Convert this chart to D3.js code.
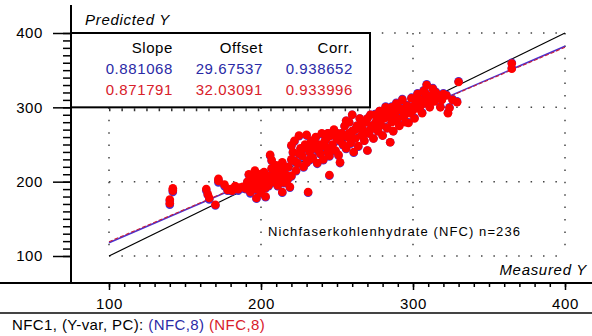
<!DOCTYPE html>
<html>
<head>
<meta charset="utf-8">
<script src="https://cdn.jsdelivr.net/npm/d3@7/dist/d3.min.js"></script>
<style>
  body { margin: 0; background: #fff; }
  svg text { font-family: "Liberation Sans", Arial, sans-serif; }
</style>
</head>
<body>
<div id="chart"></div>
<script>
// ---- data ----
const axisTicks = [100, 200, 300, 400];

const measured = [
  140,140,142,142,164,165,166,170,172,172,
  176,178,180,181,183,185,186,188,190,191,
  192,193,194,195,196,197,197,198,199,200,
  200,201,202,203,203,204,205,206,207,207,
  208,209,210,211,212,213,214,214,215,216,
  217,218,219,220,220,220,221,222,223,224,
  225,226,227,228,229,230,230,231,232,233,
  234,235,236,237,238,239,240,241,242,243,
  244,245,245,246,247,248,249,250,251,252,
  253,254,255,256,257,258,259,260,260,261,
  262,263,264,265,266,267,268,269,270,271,
  272,273,274,275,276,277,278,279,280,281,
  282,283,284,285,285,286,287,288,289,290,
  291,292,293,294,295,296,297,298,299,300,
  301,302,303,304,305,306,307,308,309,310,
  311,312,313,314,316,318,320,322,323,324,
  326,329,330,365,365,
  205,210,215,218,222,225,228,232,235,238,
  242,246,250,252,255,258,262,265,268,270,
  272,275,278,280,283,286,288,290,293,296,
  299,302,305,308,311,315,319,232,244,256
];

const predictedRed = [
  176,171,191,188,190,183,178,169,204,201,
  196,189,190,188,194,190,192,193,191,200,
  210,186,195,205,215,178,190,200,210,185,
  196,205,213,180,192,200,208,236,229,218,
  200,210,222,195,205,215,186,226,199,210,
  202,220,193,249,230,208,240,255,215,225,
  262,245,235,220,250,263,226,186,240,255,
  232,245,260,225,250,238,265,230,248,258,
  240,235,209,262,250,270,242,258,236,226,
  265,250,275,245,260,280,252,290,268,240,
  258,275,248,285,262,270,255,280,242,265,
  290,275,258,290,282,268,295,276,262,285,
  300,272,288,296,253,280,268,292,305,285,
  275,298,310,288,280,302,279,292,312,296,
  285,305,318,298,310,292,322,319,330,305,
  300,315,325,308,312,300,318,316,292,299,
  310,307,334,352,359,
  195,212,220,205,228,238,245,230,252,242,
  255,245,265,255,262,265,270,275,265,285,
  270,278,285,292,295,300,282,300,295,292,
  300,312,302,308,315,320,310,248,265,282
];

const predictedBlue = [
  174,169,189,186,188,182,176,168,202,199,
  194,188,188,187,193,188,191,191,190,199,
  209,184,194,204,213,177,189,199,209,184,
  195,204,212,179,191,199,207,235,228,217,
  199,209,221,194,204,214,185,225,198,209,
  201,219,192,248,229,207,239,254,214,224,
  261,244,234,219,249,262,225,185,239,254,
  231,244,259,224,249,237,264,229,247,257,
  239,234,208,262,249,269,241,257,235,225,
  265,249,275,244,260,280,251,290,268,239,
  258,275,247,285,262,270,255,280,242,265,
  290,275,258,291,282,268,295,276,262,286,
  301,272,289,297,253,281,268,293,306,286,
  276,299,311,289,281,303,280,293,313,297,
  286,306,319,299,311,293,323,320,331,306,
  301,316,326,309,313,301,319,317,293,300,
  311,308,335,353,360,
  194,211,219,204,227,237,244,229,251,241,
  254,244,265,254,262,265,270,275,265,285,
  270,278,285,293,296,301,283,301,296,293,
  301,313,303,309,316,321,311,247,265,282
];

// regression stats (legend table)
const statHeaders = ['Slope', 'Offset', 'Corr.'];
const statsBlue = ['0.881068', '29.67537', '0.938652'];
const statsRed = ['0.871791', '32.03091', '0.933996'];
const slopes = [0.881068, 0.871791];
const offsets = [29.67537, 32.03091];

const BLUE = '#4a30d0';
const RED = '#ff0000';
const BLUE_TXT = '#2a2aa6';
const RED_TXT = '#d8202a';

const W = 592, H = 336;

const svg = d3.select('#chart').append('svg')
  .attr('width', W)
  .attr('height', H);

const x = d3.scaleLinear().domain([100, 400]).range([109, 565]);
const y = d3.scaleLinear().domain([100, 400]).range([256, 33]);

// dotted grid
const grid = svg.append('g').classed('grid', true);
axisTicks.forEach(t => {
  grid.append('line')
    .attr('x1', x(t)).attr('x2', x(t))
    .attr('y1', y(400)).attr('y2', y(100))
    .style('stroke', '#444').style('stroke-width', 1.5)
    .style('stroke-dasharray', '1.5 10.9');
  grid.append('line')
    .attr('x1', x(100)).attr('x2', x(400))
    .attr('y1', y(t)).attr('y2', y(t))
    .style('stroke', '#444').style('stroke-width', 1.5)
    .style('stroke-dasharray', '1.5 10.9');
});

// legend box with stats
const box = svg.append('g').classed('legend', true);
box.append('rect')
  .attr('x', 71).attr('y', y(400))
  .attr('width', 299).attr('height', y(300) - y(400))
  .style('fill', '#fff').style('stroke', '#000').style('stroke-width', 2);
// little dots poking under the box border
box.append('line')
  .attr('x1', x(100)).attr('x2', 370)
  .attr('y1', y(300) + 2.5).attr('y2', y(300) + 2.5)
  .style('stroke', '#333').style('stroke-width', 3)
  .style('stroke-dasharray', '1.5 10.9');

const colRight = [173, 263, 353];
const rows = [
  { vals: statHeaders, color: '#000', base: 53 },
  { vals: statsBlue, color: BLUE_TXT, base: 74 },
  { vals: statsRed, color: RED_TXT, base: 95 }
];
rows.forEach(r => {
  r.vals.forEach((v, i) => {
    box.append('text')
      .attr('x', colRight[i]).attr('y', r.base)
      .attr('text-anchor', 'end')
      .style('font-size', '15px')
      .style('letter-spacing', '0.6px')
      .style('fill', r.color)
      .text(v);
  });
});

// target + regression lines
const lineFn = d3.line().x(d => x(d[0])).y(d => y(d[1]));
const lines = svg.append('g').classed('lines', true);
lines.append('path')
  .datum([[100, 100], [400, 400]])
  .attr('d', lineFn)
  .style('fill', 'none').style('stroke', '#000').style('stroke-width', 1.2);
[BLUE, '#c8203a'].forEach((c, i) => {
  lines.append('path')
    .datum([100, 400].map(v => [v, slopes[i] * v + offsets[i]]))
    .attr('d', lineFn)
    .style('fill', 'none').style('stroke', c)
    .style('stroke-width', i === 0 ? 1.6 : 1.1)
    .style('stroke-dasharray', i === 1 ? '4 2' : null);
});

// points: blue first, red on top
const pts = svg.append('g').classed('points', true);
pts.selectAll('circle.blue')
  .data(measured.map((m, i) => [m, predictedBlue[i]]))
  .enter().append('circle')
  .classed('blue', true)
  .attr('cx', d => x(d[0])).attr('cy', d => y(d[1]))
  .attr('r', 4.3)
  .style('fill', BLUE);
pts.selectAll('circle.red')
  .data(measured.map((m, i) => [m, predictedRed[i]]))
  .enter().append('circle')
  .classed('red', true)
  .attr('cx', d => x(d[0])).attr('cy', d => y(d[1]))
  .attr('r', 4.3)
  .style('fill', RED);

// axes
const axisY = svg.append('g').attr('transform', 'translate(71,0)');
axisY.append('g')
  .call(d3.axisLeft(y).tickValues(d3.range(100, 401, 10)).tickSize(8).tickFormat(''))
  .call(g => g.select('.domain').remove());
axisY.append('g')
  .call(d3.axisLeft(y).tickValues(axisTicks).tickSize(18).tickPadding(10))
  .call(g => g.select('.domain').remove());
axisY.append('line')
  .attr('x1', 0).attr('x2', 0).attr('y1', 5).attr('y2', 284)
  .style('stroke', '#000').style('stroke-width', 2);

const axisX = svg.append('g').attr('transform', 'translate(0,283)');
axisX.append('g')
  .call(d3.axisBottom(x).tickValues(d3.range(100, 401, 10)).tickSize(4).tickFormat(''))
  .call(g => g.select('.domain').remove());
axisX.append('g')
  .call(d3.axisBottom(x).tickValues(axisTicks).tickSize(7).tickPadding(8.3))
  .call(g => g.select('.domain').remove());
axisX.append('line')
  .attr('x1', 0).attr('x2', W).attr('y1', 0).attr('y2', 0)
  .style('stroke', '#000').style('stroke-width', 2);

svg.selectAll('.tick line').style('stroke', '#000').style('stroke-width', 1.5);
svg.selectAll('.tick text')
  .style('font-size', '15px')
  .style('letter-spacing', '0.6px')
  .style('font-family', '"Liberation Sans", Arial, sans-serif')
  .style('fill', '#000');

// axis titles
svg.append('text')
  .attr('x', 85).attr('y', 25)
  .style('font-size', '15px').style('font-style', 'italic')
  .style('letter-spacing', '0.7px')
  .text('Predicted Y');
svg.append('text')
  .attr('x', 587).attr('y', 275)
  .attr('text-anchor', 'end')
  .style('font-size', '15px').style('font-style', 'italic')
  .style('letter-spacing', '0.7px')
  .text('Measured Y');

// sample note
svg.append('text')
  .attr('x', 268).attr('y', 236)
  .style('font-size', '13px')
  .style('letter-spacing', '1.1px')
  .text('Nichfaserkohlenhydrate (NFC) n=236');

// footer
svg.append('line')
  .attr('x1', 0).attr('x2', W).attr('y1', 313).attr('y2', 313)
  .style('stroke', '#444').style('stroke-width', 2);
const foot = svg.append('text')
  .attr('x', 12).attr('y', 330)
  .style('font-size', '15px')
  .style('letter-spacing', '0.4px');
foot.append('tspan').style('fill', '#000').text('NFC1, (Y-var, PC): ');
foot.append('tspan').style('fill', BLUE_TXT).text('(NFC,8)');
foot.append('tspan').style('fill', RED_TXT).text(' (NFC,8)');
</script>
</body>
</html>
